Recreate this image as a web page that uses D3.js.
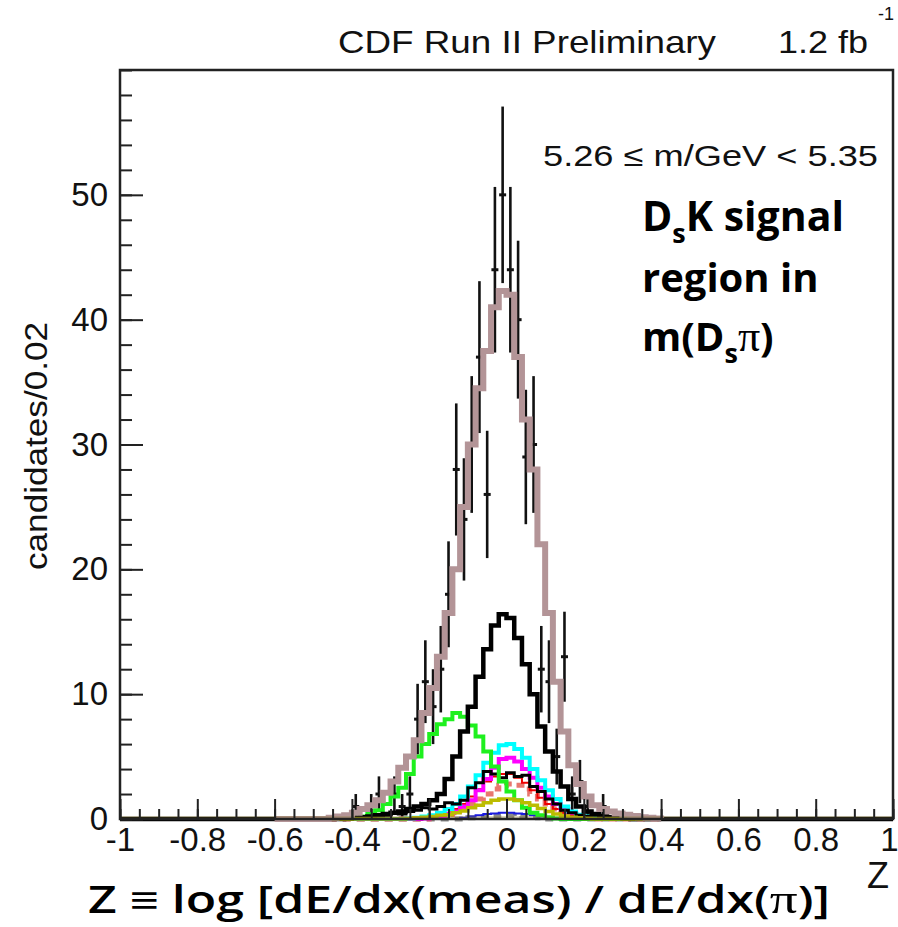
<!DOCTYPE html>
<html><head><meta charset="utf-8">
<script src="https://cdn.jsdelivr.net/npm/d3@7"></script>
<style>body{margin:0;background:#fff}</style>
</head><body>
<svg id="c" width="898" height="927"></svg>
<script>
// bin centres (bin width 0.02) where anything is non-zero
const binCenters = [-0.45,-0.43,-0.41,-0.39,-0.37,-0.35,-0.33,-0.31,-0.29,-0.27,-0.25,-0.23,-0.21,-0.19,-0.17,-0.15,-0.13,-0.11,-0.09,-0.07,-0.05,-0.03,-0.01,0.01,0.03,0.05,0.07,0.09,0.11,0.13,0.15,0.17,0.19,0.21,0.23,0.25,0.27,0.29,0.31,0.33,0.35,0.37,0.39];
const dataCounts = [0,0,0,1,0,1,2,0,2,1,2,8,11,9,12,18,28,24,30,37,26,44,50,44,40,29,30,12,11,5,13,2,3,1,0,1,0,0,0,0,0,0,0];
const totalFit   = [0.1,0.2,0.3,0.5,0.8,1.1,1.5,2.1,3.0,4.1,5.0,6.3,8.5,10.5,13,16.5,20,25,30,34.5,37.5,41,42.3,42,37,32,28,22,16.5,11,7,4.3,2.8,1.8,1.1,0.8,0.6,0.45,0.35,0.25,0.15,0.1,0.05];
const dsKSignal  = [0,0,0.05,0.1,0.15,0.2,0.3,0.4,0.5,0.6,0.8,1.0,1.2,1.5,2.0,3.2,5.0,7.0,9.0,11.4,13.6,15.5,16.4,16.1,14.5,12.4,10,7.4,5.4,3.8,2.6,1.6,1.0,0.6,0.4,0.25,0.15,0.1,0.05,0,0,0,0];
const greenComp  = [0,0.05,0.05,0.1,0.2,0.4,0.7,1.2,1.8,2.5,3.6,5.0,6.0,6.8,7.6,8.0,8.5,8.2,7.5,6.6,5.4,4.2,3.0,2.2,1.5,0.9,0.5,0.3,0.15,0.05,0,0,0,0,0,0,0,0,0,0,0,0,0];
const cyanComp   = [0,0,0,0,0,0,0,0,0,0,0.05,0.1,0.2,0.3,0.5,0.8,1.2,1.8,2.6,3.5,4.5,5.3,5.9,6.0,5.6,4.9,4.0,3.1,2.3,1.6,1.0,0.6,0.35,0.2,0.1,0,0,0,0,0,0,0,0];
const magentaComp= [0,0,0,0,0,0,0,0,0,0,0,0,0.05,0.1,0.2,0.4,0.6,1.0,1.5,2.3,3.2,4.1,4.8,4.9,4.6,4.0,3.3,2.5,1.8,1.2,0.8,0.5,0.3,0.15,0,0,0,0,0,0,0,0,0];
const blackSmall = [0,0,0,0.05,0.1,0.2,0.3,0.3,0.5,0.4,0.6,0.7,0.9,0.8,1.0,1.3,1.2,1.5,2.5,2.9,3.8,3.6,3.3,3.7,3.4,3.5,2.6,2.2,1.6,1.2,0.7,0.5,0.3,0.2,0.1,0,0,0,0,0,0,0,0];
const redComp    = [0,0,0,0,0,0,0,0,0,0,0,0,0.1,0.2,0.3,0.5,0.8,1.2,1.8,2.4,3.0,3.4,3.6,3.6,3.3,2.9,2.3,1.7,1.2,0.8,0.5,0.3,0.15,0,0,0,0,0,0,0,0,0,0];
const salmonComp = [0,0,0,0,0,0,0,0,0,0,0,0,0,0.1,0.2,0.35,0.5,0.8,1.2,1.6,2.0,2.4,2.7,2.8,2.7,2.4,2.0,1.6,1.2,0.8,0.5,0.35,0.2,0.1,0,0,0,0,0,0,0,0,0];
const oliveComp  = [0,0,0,0,0,0,0,0,0,0,0.05,0.1,0.15,0.2,0.3,0.35,0.5,0.65,0.9,1.1,1.3,1.5,1.6,1.6,1.5,1.3,1.1,0.85,0.6,0.4,0.25,0.15,0.1,0.05,0,0,0,0,0,0,0,0,0];
const blueComp   = [0,0,0,0,0,0,0,0,0,0,0,0,0,0,0,0,0,0.1,0.2,0.3,0.4,0.45,0.5,0.5,0.45,0.4,0.3,0.2,0.1,0,0,0,0,0,0,0,0,0,0,0,0,0,0];
const greyComp   = [0,0,0,0,0,0,0,0,0,0,0,0,0,0,0,0,0,0,0.1,0.15,0.2,0.25,0.3,0.3,0.25,0.2,0.15,0.1,0,0,0,0,0,0,0,0,0,0,0,0,0,0,0];

const xTicks = [-1,-0.8,-0.6,-0.4,-0.2,0,0.2,0.4,0.6,0.8,1];
const xTickLabels = ["-1","-0.8","-0.6","-0.4","-0.2","0","0.2","0.4","0.6","0.8","1"];
const yTicks = [0,10,20,30,40,50];
const yTickLabels = ["0","10","20","30","40","50"];

const binWidth = 0.02;
const svg = d3.select("#c");
const x = d3.scaleLinear().domain([-1,1]).range([120,893]);
const y = d3.scaleLinear().domain([0,60]).range([819,70]);
const FONT = "'Liberation Sans', Arial, Helvetica, sans-serif";

function stepPoints(vals, lo, hi){
  const first = binCenters[0]-binWidth/2, last = binCenters[binCenters.length-1]+binWidth/2;
  const pts = [];
  if (lo < first) pts.push([lo,0]);
  pts.push([first,0]);
  binCenters.forEach((c,i)=>{
    pts.push([c-binWidth/2, vals[i]]);
    pts.push([c+binWidth/2, vals[i]]);
  });
  pts.push([last,0]);
  if (hi > last) pts.push([hi,0]);
  return pts;
}
const line = d3.line().x(d=>x(d[0])).y(d=>y(d[1]));

// data points with error bars
const dataG = svg.append("g");
binCenters.forEach((c,i)=>{
  const n = dataCounts[i];
  if(n<=0) return;
  const e = Math.sqrt(n);
  dataG.append("line").attr("x1",x(c)).attr("x2",x(c)).attr("y1",y(n-e)).attr("y2",y(n+e))
    .attr("stroke","#111").attr("stroke-width",2.6);
  dataG.append("line").attr("x1",x(c)-3.5).attr("x2",x(c)+3.5).attr("y1",y(n)).attr("y2",y(n))
    .attr("stroke","#111").attr("stroke-width",3);
});

const series = [
  {v:greyComp,   c:"#8a8a8a", w:5, dash:"8,6", lo:-0.46, hi:0.40},
  {v:blueComp,   c:"#1a1ae0", w:2, lo:-0.46, hi:0.40},
  {v:salmonComp, c:"#e8776f", w:5, dash:"8,6", lo:-0.46, hi:0.40},
  {v:redComp,    c:"#ee0000", w:2, lo:-0.46, hi:0.40},
  {v:magentaComp,c:"#ff00ff", w:4, lo:-0.46, hi:0.40},
  {v:cyanComp,   c:"#00ffff", w:4, lo:-0.46, hi:0.40},
  {v:blackSmall, c:"#000",    w:3, lo:-1, hi:1},
  {v:greenComp,  c:"#1ef01e", w:4, lo:-0.46, hi:0.40},
  {v:dsKSignal,  c:"#000",    w:4.5, lo:-1, hi:1},
  {v:oliveComp,  c:"#bcbc00", w:3.5, lo:-0.46, hi:0.40},
  {v:totalFit,   c:"#b39497", w:6, lo:-0.6, hi:0.4},
];
series.forEach(s=>{
  svg.append("path").attr("d", line(stepPoints(s.v, s.lo, s.hi)))
    .attr("fill","none").attr("stroke",s.c).attr("stroke-width",s.w)
    .attr("stroke-dasharray", s.dash||null).attr("stroke-linejoin","miter");
});
// thin olive tint along the zero line
svg.append("path").attr("d", line([[-1,0],[1,0]])).attr("transform","translate(0,-2)")
  .attr("stroke","#8a7a30").attr("stroke-width",1).attr("fill","none").attr("opacity",0.6);

// frame
svg.append("rect").attr("x",120).attr("y",70).attr("width",893-120).attr("height",819-70)
  .attr("fill","none").attr("stroke","#222").attr("stroke-width",2.5);

// x axis minor + major
const xMinor = d3.range(-1,1.0001,0.05);
svg.append("g").attr("transform","translate(0,819)")
  .call(d3.axisBottom(x).tickValues(xMinor).tickSizeInner(-10).tickSizeOuter(0).tickFormat(""))
  .call(g=>{g.select(".domain").remove(); g.selectAll("line").attr("stroke","#222").attr("stroke-width",2);});
svg.append("g").attr("transform","translate(0,819)")
  .call(d3.axisBottom(x).tickValues(xTicks).tickSizeInner(-20).tickSizeOuter(0).tickPadding(9)
        .tickFormat((d,i)=>xTickLabels[i]))
  .call(g=>{g.select(".domain").remove(); g.selectAll("line").attr("stroke","#222").attr("stroke-width",2);
            g.selectAll("text").attr("font-family",FONT).attr("font-size",33).attr("fill","#111")
             .attr("dx",(d,i)=> i===xTicks.length-1 ? -4 : 0);});

// y axis minor + major
const yMinor = d3.range(0,60.001,2);
svg.append("g").attr("transform","translate(120,0)")
  .call(d3.axisLeft(y).tickValues(yMinor).tickSizeInner(-12).tickSizeOuter(0).tickFormat(""))
  .call(g=>{g.select(".domain").remove(); g.selectAll("line").attr("stroke","#222").attr("stroke-width",2);});
svg.append("g").attr("transform","translate(120,0)")
  .call(d3.axisLeft(y).tickValues(yTicks).tickSizeInner(-23).tickSizeOuter(0).tickPadding(12)
        .tickFormat((d,i)=>yTickLabels[i]))
  .call(g=>{g.select(".domain").remove(); g.selectAll("line").attr("stroke","#222").attr("stroke-width",2);
            g.selectAll("text").attr("font-family",FONT).attr("font-size",33).attr("fill","#111");});

// texts
svg.append("text").attr("x",338).attr("y",53).attr("font-family",FONT).attr("font-size",32)
  .attr("textLength",378).attr("lengthAdjust","spacingAndGlyphs").attr("fill","#111").text("CDF Run II Preliminary");
svg.append("text").attr("x",778).attr("y",53).attr("font-family",FONT).attr("font-size",32)
  .attr("textLength",90).attr("lengthAdjust","spacingAndGlyphs").attr("fill","#111").text("1.2 fb");
svg.append("text").attr("x",878).attr("y",20).attr("font-family",FONT).attr("font-size",18)
  .attr("fill","#111").text("-1");
svg.append("text").attr("x",543).attr("y",166).attr("font-family",FONT).attr("font-size",30)
  .attr("textLength",335).attr("lengthAdjust","spacingAndGlyphs").attr("fill","#111").text("5.26 ≤ m/GeV < 5.35");

const BFONT = "'Open Sans', 'Noto Sans', sans-serif";
const PIFONT = "'Liberation Serif','DejaVu Serif',serif";
const t1 = svg.append("text").attr("x",642).attr("y",231).attr("font-family",BFONT).attr("font-weight",700).attr("font-size",41);
t1.append("tspan").text("D");
t1.append("tspan").attr("font-size",27).attr("dy",12).text("s");
t1.append("tspan").attr("dy",-12).text("K signal");
svg.append("text").attr("x",642).attr("y",292).attr("font-family",BFONT).attr("font-weight",700).attr("font-size",40).text("region in");
const t3 = svg.append("text").attr("x",642).attr("y",351).attr("font-family",BFONT).attr("font-weight",700).attr("font-size",40);
t3.append("tspan").text("m(D");
t3.append("tspan").attr("font-size",27).attr("dy",12).text("s");
t3.append("tspan").attr("dy",-12).attr("font-family",PIFONT).attr("font-weight",400).attr("font-size",44).text("π");
t3.append("tspan").text(")");

svg.append("text").attr("transform","translate(47,446) rotate(-90)").attr("text-anchor","middle")
  .attr("font-family",FONT).attr("font-size",32).attr("textLength",248).attr("lengthAdjust","spacingAndGlyphs")
  .attr("fill","#111").text("candidates/0.02");
svg.append("text").attr("x",867).attr("y",888).attr("font-family",FONT).attr("font-size",36).attr("fill","#111").text("Z");

const xt = svg.append("text").attr("x",88).attr("y",913).attr("font-family",BFONT).attr("font-weight",600)
  .attr("font-size",38).attr("textLength",742).attr("lengthAdjust","spacingAndGlyphs");
xt.append("tspan").text("Z ≡ log [dE/dx(meas) / dE/dx(");
xt.append("tspan").attr("font-family",PIFONT).attr("font-weight",400).attr("font-size",42).text("π");
xt.append("tspan").text(")]");
</script>
</body></html>
